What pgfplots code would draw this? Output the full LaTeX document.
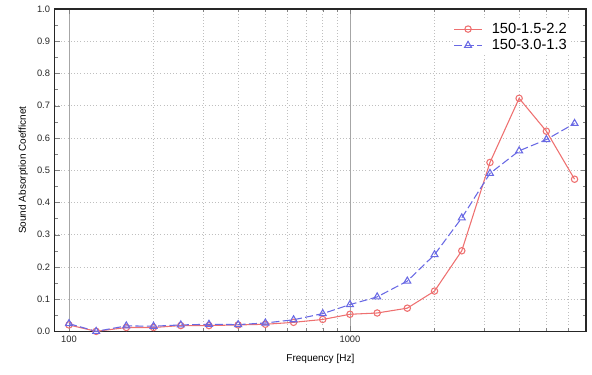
\documentclass[border=0pt]{standalone}
\usepackage{fontspec}
\setmainfont{Liberation Sans}
\usepackage{pgfplots}
\pgfplotsset{compat=1.18}
\definecolor{redl}{RGB}{238,112,112}
\definecolor{bluel}{RGB}{105,105,228}
\begin{document}
\begin{tikzpicture}
\begin{axis}[
  scale only axis,
  width=398pt, height=241.5pt,
  xmode=log, log basis x=10,
  xmin=89, xmax=6920, ymin=0, ymax=1,
  xtick={100,1000}, xticklabels={100,1000},
  minor xtick={200,300,400,500,600,700,800,900,2000,3000,4000,5000,6000},
  ytick={0,0.1,0.2,0.3,0.4,0.5,0.6,0.7,0.8,0.9,1.0},
  minor ytick={0.05,0.15,0.25,0.35,0.45,0.55,0.65,0.75,0.85,0.95},
  yticklabel style={/pgf/number format/.cd, fixed, fixed zerofill, precision=1, assume math mode=true},
  tick label style={font=\fontsize{7}{8}\selectfont, text=black!85},
  tick align=inside,
  major tick length=4pt, minor tick length=2.5pt,
  xmajorgrids, xminorgrids, ymajorgrids,
  major x grid style={gray!70, line width=0.6pt},
  minor x grid style={gray!50, dotted},
  major y grid style={gray!50, dotted},
  axis line style={line width=1pt, black!85},
  xlabel={Frequency [Hz]}, ylabel={Sound Absorption Coefficnet},
  label style={font=\fontsize{7.5}{9}\selectfont},
  xlabel style={yshift=-2pt},
  legend style={at={(0.972,0.97)}, anchor=north east, draw=none, fill=white, font=\fontsize{11}{13}\selectfont, row sep=-1pt, inner sep=1pt},
  legend cell align=left,
  legend image code/.code={\draw[#1] (0cm,0cm) -- (0.72cm,0cm); \draw[#1, only marks] plot coordinates {(0.36cm,0cm)}; \path (0.9cm,0cm);},
]
\addplot[redl, line width=0.8pt, mark=o, mark size=2.4pt, mark options={solid, fill=white}] coordinates {
(100,0.020) (125,0.000) (160,0.012) (200,0.012) (250,0.018) (315,0.018) (400,0.020) (500,0.022) (630,0.028) (800,0.037)
(1000,0.053) (1250,0.057) (1600,0.072) (2000,0.125) (2500,0.250) (3150,0.524) (4000,0.723) (5000,0.621) (6300,0.472)};
\addlegendentry{150-1.5-2.2}
\addplot[bluel, line width=0.8pt, dash pattern=on 6pt off 2.5pt, mark=triangle, mark size=3pt, mark options={solid, fill=white}] coordinates {
(100,0.024) (125,0.000) (160,0.017) (200,0.016) (250,0.020) (315,0.022) (400,0.021) (500,0.026) (630,0.036) (800,0.055)
(1000,0.083) (1250,0.107) (1600,0.156) (2000,0.238) (2500,0.352) (3150,0.490) (4000,0.560) (5000,0.595) (6300,0.645)};
\addlegendentry{150-3.0-1.3}
\end{axis}
\path (current axis.south west) ++(-41pt,-32pt) coordinate (bbA);
\path (current axis.north east) ++(4.5pt,6.75pt) coordinate (bbB);
\path (bbA) rectangle (bbB);
\end{tikzpicture}
\end{document}
